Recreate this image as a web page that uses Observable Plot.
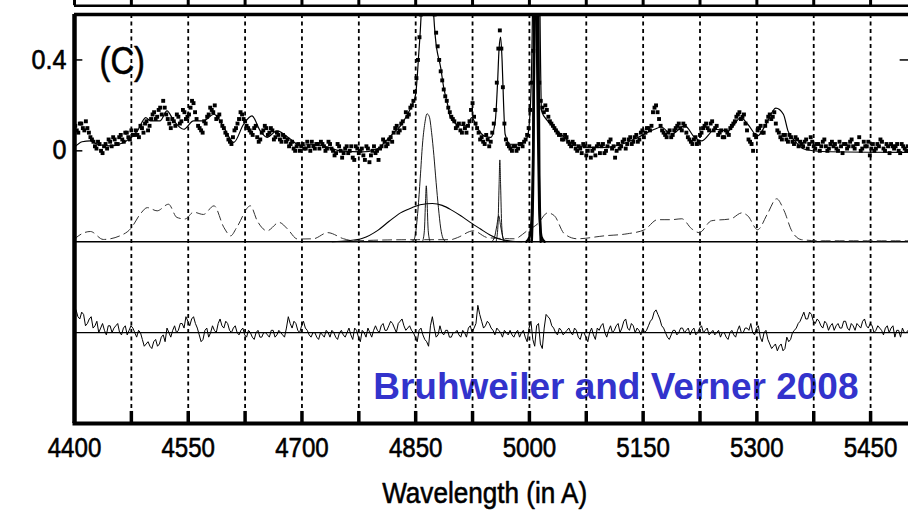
<!DOCTYPE html>
<html><head><meta charset="utf-8">
<script src="https://cdn.jsdelivr.net/npm/d3@7"></script>
<script src="https://cdn.jsdelivr.net/npm/@observablehq/plot@0.6"></script>
<style>html,body{margin:0;padding:0;background:#fff;}</style>
</head><body><div id="chart"></div>
<script>
// ---------- data ----------
// observed spectrum, two interleaved samplings (every 4 Å, offset by 2 Å)
const obsStartA = 4401, obsStartB = 4403, obsStep = 4;
const obsFluxA = [
0.11,0.08,0.12,0.09,0.10,0.06,0.04,0.01,0.03,-0.01,
0.03,0.05,0.02,0.05,0.03,0.07,0.04,0.08,0.05,0.07,
0.09,0.06,0.10,0.12,0.09,0.14,0.17,0.15,0.19,0.22,
0.16,0.12,0.14,0.11,0.15,0.13,0.17,0.15,0.19,0.21,
0.14,0.10,0.08,0.12,0.16,0.18,0.20,0.15,0.13,0.10,
0.07,0.04,0.06,0.10,0.14,0.16,0.13,0.10,0.08,0.10,
0.06,0.05,0.09,0.10,0.08,0.09,0.06,0.07,0.04,0.06,
0.05,0.03,0.01,0.02,0.00,0.03,0.01,0.02,0.04,0.01,
0.03,0.04,0.02,0.01,0.03,0.00,-0.01,0.02,-0.03,0.01,
-0.01,0.02,-0.04,0.01,0.00,-0.02,0.02,-0.05,0.00,-0.01,
-0.04,0.02,0.04,0.03,0.06,0.08,0.11,0.09,0.13,0.17,
0.16,0.20,0.26,0.40,0.60,0.85,0.95,0.90,0.70,0.52,
0.40,0.31,0.24,0.19,0.15,0.13,0.11,0.09,0.12,0.08,
0.13,0.21,0.12,0.08,0.06,0.03,0.05,0.04,0.12,0.30,
0.53,0.28,0.05,0.02,0.00,0.02,0.01,0.03,0.04,0.07,
0.18,0.44,0.90,0.30,0.19,0.20,0.15,0.12,0.10,0.08,
0.07,0.05,0.06,0.03,0.04,0.01,0.02,-0.01,0.02,0.00,
-0.03,0.01,0.02,-0.01,0.03,0.00,0.04,0.01,-0.03,0.03,
0.02,0.05,0.03,0.06,0.04,0.07,0.05,0.09,0.08,0.10,
0.11,0.19,0.17,0.11,0.08,0.06,0.09,0.07,0.10,0.12,
0.09,0.11,0.06,0.04,0.05,0.03,0.07,0.10,0.12,0.09,
0.13,0.10,0.07,0.09,0.06,0.08,0.10,0.12,0.15,0.17,
0.15,0.12,0.05,0.03,0.07,0.09,0.11,0.08,0.13,0.16,
0.15,0.12,0.08,0.05,0.07,0.04,0.06,0.03,0.05,0.04,
0.02,0.05,0.03,0.04,0.01,0.03,0.02,0.05,0.00,0.03,
0.02,0.01,0.04,-0.01,0.03,0.02,0.05,0.01,0.03,0.00,
0.04,0.02,-0.02,0.03,0.01,0.02,0.04,0.00,0.02,0.03,
0.01,0.03,-0.01,0.02,0.00
];
const obsFluxB = [
0.09,0.12,0.10,0.13,0.08,0.05,0.02,0.04,0.00,0.02,
0.01,0.04,0.06,0.03,0.06,0.05,0.08,0.06,0.09,0.07,
0.07,0.11,0.08,0.13,0.11,0.16,0.14,0.18,0.16,0.19,
0.14,0.10,0.13,0.16,0.12,0.18,0.14,0.16,0.22,0.17,
0.11,0.09,0.13,0.15,0.19,0.17,0.14,0.16,0.11,0.08,
0.05,0.03,0.09,0.12,0.17,0.14,0.11,0.09,0.07,0.11,
0.04,0.08,0.11,0.07,0.10,0.05,0.08,0.05,0.07,0.04,
0.02,0.04,0.00,0.03,0.02,0.01,0.04,0.00,0.02,0.03,
0.01,0.03,0.00,0.04,0.01,-0.02,0.03,0.00,-0.01,0.02,
0.00,-0.03,0.02,-0.01,0.01,-0.04,0.01,-0.02,0.02,0.00,
0.01,0.05,0.02,0.05,0.04,0.10,0.08,0.12,0.10,0.15,
0.19,0.22,0.32,0.50,0.75,0.95,0.95,0.80,0.60,0.46,
0.35,0.27,0.22,0.17,0.14,0.10,0.12,0.08,0.10,0.11,
0.18,0.15,0.10,0.05,0.04,0.07,0.02,0.08,0.18,0.45,
0.45,0.12,0.03,0.01,0.02,0.00,0.03,0.02,0.05,0.10,
0.30,0.70,0.60,0.22,0.17,0.18,0.13,0.11,0.09,0.07,
0.05,0.07,0.04,0.02,0.03,0.00,0.01,0.03,-0.02,0.02,
0.00,-0.02,0.03,0.02,-0.01,0.02,0.05,0.02,0.00,0.01,
0.04,0.01,0.05,0.03,0.06,0.04,0.08,0.06,0.10,0.09,
0.17,0.20,0.14,0.09,0.07,0.08,0.06,0.09,0.11,0.10,
0.12,0.08,0.05,0.03,0.06,0.04,0.08,0.11,0.10,0.12,
0.09,0.11,0.08,0.06,0.09,0.07,0.11,0.13,0.16,0.14,
0.16,0.09,0.04,0.00,0.06,0.10,0.08,0.11,0.15,0.14,
0.17,0.09,0.06,0.07,0.05,0.07,0.04,0.06,0.02,0.03,
0.04,0.01,0.06,0.02,0.03,0.00,0.04,0.02,0.01,0.04,
0.03,0.00,0.02,0.03,0.01,0.04,0.02,0.03,0.06,0.01,
0.02,0.04,0.01,0.00,0.03,0.05,0.01,0.03,-0.01,0.02,
0.02,0.00,0.03,0.01,0.02
];
// model fit
const fitWave = [4400,4410,4421,4430,4447,4465,4474,4483,4494,4500,4513,4522,4531,4544,4557,4570,4584,4597,4610,4623,4634,4645,4654,4667,4685,4698,4711,4730,4751,4780,4800,4810,4821,4830,4839,4845,4850,4854,4857,4861,4865,4869,4874,4876,4883,4887,4892,4896,4905,4918,4924,4931,4940,4949,4955,4958,4960,4962,4964,4966,4968,4975,4988,4997,5001,5004,5006,5009,5012,5014,5016,5024,5033,5046,5059,5077,5099,5121,5143,5165,5174,5187,5205,5218,5227,5245,5262,5279,5288,5301,5312,5325,5335,5341,5350,5363,5385,5500];
const fitFlux = [0.015,0.04,0.044,0.029,0.022,0.037,0.059,0.088,0.146,0.132,0.132,0.176,0.132,0.095,0.132,0.132,0.161,0.102,0.037,0.117,0.154,0.088,0.059,0.088,0.051,0.022,0.029,0.02,0.0,-0.005,0.01,0.04,0.08,0.11,0.16,0.2,0.25,0.425,0.586,1.0,1.3,1.0,0.586,0.498,0.366,0.278,0.205,0.146,0.117,0.11,0.146,0.102,0.066,0.059,0.132,0.3,0.45,0.5,0.396,0.2,0.073,0.029,0.029,0.059,0.176,0.6,1.5,2.0,1.5,0.6,0.176,0.132,0.102,0.059,0.029,0.015,0.015,0.029,0.059,0.095,0.105,0.073,0.11,0.059,0.044,0.095,0.088,0.146,0.117,0.066,0.117,0.188,0.161,0.088,0.044,0.007,-0.003,-0.007];
// Fe II template (dashed)
const feWave = [4400,4403,4421,4438,4460,4474,4487,4496,4509,4524,4535,4546,4557,4570,4584,4597,4606,4614,4632,4641,4654,4670,4681,4694,4715,4734,4755,4768,4800,4850,4896,4905,4926,4945,4980,4997,5011,5024,5033,5046,5063,5099,5129,5152,5169,5187,5201,5214,5224,5240,5266,5280,5288,5301,5314,5326,5336,5346,5359,5385,5500];
const feFlux = [-0.395,-0.38,-0.355,-0.39,-0.374,-0.343,-0.277,-0.25,-0.264,-0.235,-0.293,-0.3,-0.27,-0.28,-0.242,-0.337,-0.374,-0.337,-0.242,-0.308,-0.352,-0.315,-0.344,-0.388,-0.387,-0.36,-0.387,-0.396,-0.393,-0.391,-0.391,-0.382,-0.352,-0.382,-0.387,-0.352,-0.321,-0.273,-0.286,-0.365,-0.387,-0.374,-0.365,-0.347,-0.303,-0.303,-0.299,-0.343,-0.36,-0.308,-0.299,-0.273,-0.286,-0.347,-0.277,-0.211,-0.264,-0.352,-0.391,-0.396,-0.396];
// line components
const hbBroadWave = [4740,4760,4780,4800,4815,4830,4845,4858,4872,4885,4898,4910,4922,4935,4948,4960,4975,4990];
const hbBroadFlux = [-0.4,-0.396,-0.385,-0.35,-0.31,-0.273,-0.25,-0.236,-0.232,-0.24,-0.262,-0.287,-0.315,-0.343,-0.37,-0.388,-0.397,-0.4];
const hbMidWave = [4842,4847,4850,4853,4856,4859,4862,4865,4868,4871,4874,4877,4880,4883,4886,4890];
const hbMidFlux = [-0.4,-0.395,-0.36,-0.26,-0.12,0.03,0.12,0.163,0.15,0.08,-0.02,-0.14,-0.25,-0.34,-0.385,-0.4];
const hbNarrowWave = [4859,4861.5,4863,4864,4865,4866.5,4869];
const hbNarrowFlux = [-0.4,-0.35,-0.22,-0.154,-0.22,-0.35,-0.4];
const o3aNarrowWave = [4956,4958.5,4960,4961,4962,4963.5,4966];
const o3aNarrowFlux = [-0.4,-0.33,-0.15,-0.04,-0.15,-0.33,-0.4];
const o3aBroadWave = [4950,4954,4957,4959.5,4962,4965,4969];
const o3aBroadFlux = [-0.4,-0.38,-0.33,-0.286,-0.33,-0.38,-0.4];
const o3bNarrowWave = [5003,5005,5007,5009,5011,5013,5015];
const o3bNarrowFlux = [-0.4,-0.1,1.0,1.8,1.0,-0.1,-0.4];
const o3bBroadWave = [4996,5000,5003,5005,5008,5011,5013,5016,5020];
const o3bBroadFlux = [-0.4,-0.38,-0.3,0.0,1.0,0.2,-0.25,-0.38,-0.4];
// residuals (two interleaved samplings every 5 Å)
const residStartA = 4402, residStartB = 4404.5, residStep = 5;
const residBase = -0.8, compBase = -0.4;
const residA = [
0.10,0.06,0.08,0.04,0.07,0.03,0.00,0.04,-0.01,0.03,
0.02,0.04,-0.01,0.03,0.01,0.02,-0.02,0.00,-0.06,-0.04,
-0.07,-0.03,-0.05,-0.01,0.02,-0.02,0.03,0.01,0.04,0.07,
0.03,0.07,0.02,-0.04,0.01,-0.02,0.03,0.00,0.06,0.02,
0.04,0.00,0.03,-0.01,0.02,-0.02,0.00,-0.03,0.01,-0.02,
0.00,-0.02,0.01,-0.01,0.00,-0.02,0.07,0.02,0.04,0.00,
0.05,0.01,-0.02,0.00,-0.03,-0.01,0.01,-0.02,0.00,-0.03,
0.01,-0.02,0.02,-0.03,0.01,-0.04,0.00,0.02,-0.02,0.03,
0.00,0.04,0.01,0.05,0.02,0.04,0.06,0.01,0.03,0.00,
-0.04,0.02,-0.03,-0.06,0.07,-0.02,0.03,-0.01,0.01,-0.02,
0.00,-0.01,0.01,-0.02,0.03,0.02,0.12,0.05,0.03,0.04,
0.01,0.02,0.00,0.01,-0.01,-0.01,0.00,-0.02,0.01,-0.04,
0.05,-0.06,0.04,-0.07,0.08,0.06,0.02,-0.01,0.01,0.00,
0.02,-0.01,0.01,-0.03,0.00,-0.04,0.02,-0.03,0.01,0.04,
-0.02,0.03,0.01,0.04,0.02,0.06,0.01,0.03,0.02,-0.01,
0.00,0.03,0.06,0.10,0.06,0.02,-0.02,-0.01,0.01,0.00,
0.02,0.01,-0.01,0.02,0.00,0.03,0.01,-0.01,0.01,0.00,
-0.02,0.00,-0.03,0.01,-0.02,0.03,0.00,0.02,0.04,-0.01,
0.03,-0.04,0.01,-0.05,-0.06,-0.08,-0.05,-0.07,-0.04,0.00,
0.02,0.05,0.09,0.06,0.08,0.04,0.05,0.02,0.04,0.03,
0.01,0.04,0.02,0.05,0.01,0.03,0.04,0.02,0.06,0.02,
0.03,0.01,0.02,-0.01,0.03,0.02,-0.02,0.01,0.02,0.00
];
const residB = [
0.07,0.09,0.03,0.06,0.02,0.05,0.02,0.01,0.03,0.00,
0.03,0.00,0.02,-0.01,0.03,0.00,0.01,-0.03,-0.05,-0.06,
-0.04,-0.06,-0.02,-0.04,0.00,0.01,0.00,0.04,0.02,0.05,
0.06,0.04,-0.01,-0.03,0.02,0.00,0.01,0.04,0.03,0.05,
0.01,0.02,0.00,0.01,-0.01,0.01,-0.02,0.00,-0.02,0.00,
-0.01,0.01,-0.02,0.01,-0.01,0.02,0.04,0.05,0.01,0.03,
0.02,-0.01,0.00,-0.02,0.00,-0.02,0.00,0.01,-0.02,0.00,
-0.01,0.00,-0.01,0.02,-0.02,0.01,-0.02,0.00,0.01,0.01,
0.03,0.01,0.03,0.04,0.00,0.05,0.03,0.02,0.01,-0.02,
0.01,-0.01,-0.04,0.03,0.02,-0.01,0.00,0.01,-0.02,0.00,
0.01,-0.02,0.00,0.02,0.00,0.04,0.08,0.02,0.05,0.02,
-0.01,0.01,-0.02,0.00,0.01,-0.02,0.01,0.00,-0.02,0.02,
-0.03,0.03,-0.05,0.02,0.07,0.03,0.00,0.02,-0.01,0.01,
0.00,0.02,-0.02,0.00,-0.02,0.00,-0.01,0.02,0.03,0.00,
0.01,0.00,0.03,0.00,0.05,0.02,0.04,0.00,0.01,0.02,
0.01,0.05,0.09,0.08,0.03,0.00,-0.03,0.01,-0.01,0.02,
0.00,0.02,0.01,-0.01,0.02,0.00,0.02,0.00,-0.01,0.01,
0.00,-0.02,0.00,-0.01,0.01,0.00,0.02,0.01,0.00,0.02,
-0.02,0.00,-0.03,-0.07,-0.05,-0.06,-0.08,-0.02,-0.03,0.01,
0.04,0.07,0.06,0.09,0.05,0.06,0.03,0.05,0.01,0.04,
0.03,0.02,0.05,0.02,0.04,0.01,0.03,0.05,0.03,0.04,
0.00,0.03,0.01,0.02,0.00,0.03,0.01,-0.02,0.00,0.01
];

const gridTicks = [4475,4550,4625,4700,4775,4850,4925,5000,5075,5150,5225,5300,5375,5450];
const xLabels = [4400,4550,4700,4850,5000,5150,5300,5450];
const yTicks = [0, 0.4];
const yLabels = ["0", "0.4"];
const prevPanelTicks = [4400,4475,4550,4625,4700,4775,4850,4925,5000,5075,5150,5225,5300,5375,5450];
const panelTag = "(C)";
const credit = "Bruhweiler and Verner 2008";
const xTitle = "Wavelength (in A)";

// ---------- helpers ----------
const zip = (w, f) => w.map((x, i) => ({x, y: f[i]}));
const obs = [
  ...obsFluxA.map((y, i) => ({x: obsStartA + i * obsStep, y})),
  ...obsFluxB.map((y, i) => ({x: obsStartB + i * obsStep, y}))
];
const res = [
  ...residA.map((r, i) => ({x: residStartA + i * residStep, y: residBase + r})),
  ...residB.map((r, i) => ({x: residStartB + i * residStep, y: residBase + r}))
].sort((a, b) => a.x - b.x);
const SANS = '"Liberation Sans",Arial,Helvetica,sans-serif';
const comp = (w, f, sw = 0.9) => Plot.line(zip(w, f), {x: "x", y: "y", stroke: "black", strokeWidth: sw, curve: "monotone-x", clip: true});
const labelStyle = {fontFamily: SANS, fill: "black", stroke: "black", strokeWidth: 0.6};

const chart = Plot.plot({
  width: 908, height: 513,
  marginLeft: 74, marginRight: 0, marginTop: 14, marginBottom: 90,
  x: {domain: [4400, 5500], axis: null},
  y: {domain: [-1.2, 0.6], axis: null},
  style: {background: "white", overflow: "visible"},
  marks: [
    Plot.text([credit], {x: 5114, y: -1.039, text: d => d, fontSize: 37, fontWeight: "bold", fill: "#3333cc", fontFamily: SANS, textAnchor: "middle"}),
    Plot.ruleX(gridTicks, {x: d => d, y1: -1.2, y2: 0.6, stroke: "black", strokeWidth: 1.8, strokeDasharray: "4,3.5"}),
    Plot.ruleY([compBase], {y: d => d, x1: 4400, x2: 5500, stroke: "black", strokeWidth: 1.4}),
    Plot.ruleY([residBase], {y: d => d, x1: 4400, x2: 5500, stroke: "black", strokeWidth: 1.2}),
    Plot.line(zip(feWave, feFlux), {x: "x", y: "y", stroke: "#333", strokeWidth: 1, strokeDasharray: "9,5", curve: "monotone-x", clip: true}),
    comp(hbBroadWave, hbBroadFlux, 1.1),
    comp(hbMidWave, hbMidFlux),
    comp(hbNarrowWave, hbNarrowFlux),
    comp(o3aNarrowWave, o3aNarrowFlux),
    comp(o3aBroadWave, o3aBroadFlux),
    comp(o3bNarrowWave, o3bNarrowFlux, 2.5),
    comp(o3bBroadWave, o3bBroadFlux, 2.5),
    Plot.line(res, {x: "x", y: "y", stroke: "black", strokeWidth: 1, clip: true}),
    Plot.line(zip(fitWave, fitFlux), {x: "x", y: "y", stroke: "black", strokeWidth: 1.2, curve: "monotone-x", clip: true}),
    Plot.dot(obs, {x: "x", y: "y", r: 2.2, symbol: "square", fill: "black", stroke: "none", clip: true}),
    // frame and ticks
    Plot.ruleX(gridTicks, {x: d => d, y1: -1.2, y2: -1.147, stroke: "black", strokeWidth: 3.5}),
    Plot.ruleY(yTicks, {y: d => d, x1: 4400, x2: 4411, stroke: "black", strokeWidth: 1.5}),
    Plot.ruleY([0.4], {y: d => d, x1: 5489, x2: 5500, stroke: "black", strokeWidth: 1.5}),
    Plot.ruleX([4400], {x: d => d, y1: -1.2, y2: 0.6, stroke: "black", strokeWidth: 4.5}),
    Plot.ruleY([0.6], {y: d => d, x1: 4400, x2: 5500, stroke: "black", strokeWidth: 3.5}),
    Plot.ruleY([-1.2], {y: d => d, x1: 4398, x2: 5500, stroke: "black", strokeWidth: 4}),
    // bottom edge of the panel above
    Plot.ruleY([0.6387], {y: d => d, x1: 4400, x2: 5500, stroke: "black", strokeWidth: 2.5}),
    Plot.ruleX(prevPanelTicks, {x: d => d, y1: 0.6387, y2: 0.67, stroke: "black", strokeWidth: 3}),
    // labels (horizontally condensed afterwards)
    Plot.text(yTicks, {x: 4400, y: d => d, text: (d, i) => yLabels[i], dx: -8, textAnchor: "end", fontSize: 27, ...labelStyle, ariaDescription: "cond-93"}),
    Plot.text(xLabels, {x: d => d, y: -1.2, text: d => String(d), dy: 25, fontSize: 28, ...labelStyle, ariaDescription: "cond-86"}),
    Plot.text([xTitle], {x: 4941, y: -1.2, text: d => d, dy: 70, fontSize: 30, ...labelStyle, ariaDescription: "cond-87"}),
    Plot.text([panelTag], {x: 4463, y: 0.393, text: d => d, fontSize: 39, ...labelStyle, ariaDescription: "cond-84"})
  ]
});
document.getElementById("chart").appendChild(chart);
// condense label glyphs to mimic the narrow face of the original
[["cond-93", 0.93], ["cond-86", 0.86], ["cond-87", 0.87], ["cond-84", 0.84]].forEach(([label, k]) => {
  d3.select(chart).selectAll(`g[aria-description="${label}"] text`).each(function () {
    const w = this.getComputedTextLength();
    d3.select(this).attr("textLength", w * k).attr("lengthAdjust", "spacingAndGlyphs");
  });
});
</script>
</body></html>
